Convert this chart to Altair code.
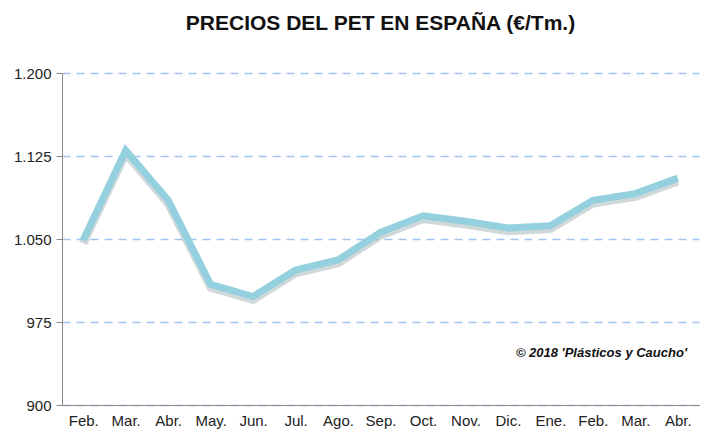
import altair as alt
import pandas as pd

months = ["Feb.", "Mar.", "Abr.", "May.", "Jun.", "Jul.", "Ago.", "Sep.", "Oct.", "Nov.", "Dic.", "Ene.", "Feb.", "Mar.", "Abr."]
prices = [1049, 1130, 1085, 1009, 998, 1022, 1031, 1056, 1071, 1066, 1060, 1062, 1085, 1091, 1105]

df = pd.DataFrame({"i": list(range(len(months))), "m": months, "p": prices})
label_expr = "[" + ",".join(f"'{m}'" for m in months) + "][datum.value]"

x = alt.X("i:O", title=None, scale=alt.Scale(paddingOuter=0.5),
          axis=alt.Axis(labelExpr=label_expr, labelAngle=0, labelFontSize=15, labelColor="#222",
                        domainColor="#888", ticks=False, labelPadding=8, grid=False))
y = alt.Y("p:Q", title=None, scale=alt.Scale(domain=[900, 1200]),
          axis=alt.Axis(values=[900, 975, 1050, 1125, 1200], labelFontSize=15, labelColor="#222",
                        labelExpr="replace(format(datum.value, ','), ',', '.')",
                        grid=True, gridDash=[8, 6], gridColor="#9fc4f2", gridWidth=1.5,
                        domainColor="#888", tickColor="#888", tickSize=6, labelPadding=5))

base = alt.Chart(df)
shadow = base.mark_line(strokeWidth=8, color="#9aa9ad", opacity=0.45).encode(
    x=x, y=y).transform_calculate(p="datum.p - 3")
line = base.mark_line(strokeWidth=7, color="#94d0de").encode(x=x, y=y)
note = alt.Chart(pd.DataFrame({"t": ["© 2018 'Plásticos y Caucho'"]})).mark_text(
    fontStyle="italic", fontWeight="bold", fontSize=13, align="right", font="Liberation Sans", color="#111"
).encode(text="t:N", x=alt.value(625), y=alt.value(280))

chart = (shadow + line + note).properties(
    width=696, height=425,
    autosize=alt.AutoSizeParams(type="fit", contains="padding"),
    title=alt.TitleParams("PRECIOS DEL PET EN ESPAÑA (€/Tm.)", fontSize=21, fontWeight="bold",
                          font="Liberation Sans", color="#111", offset=32),
).configure_view(stroke=None).configure_axis(labelFont="Liberation Sans")

chart.save("out.html", embed_options={"renderer": "svg", "actions": False})
